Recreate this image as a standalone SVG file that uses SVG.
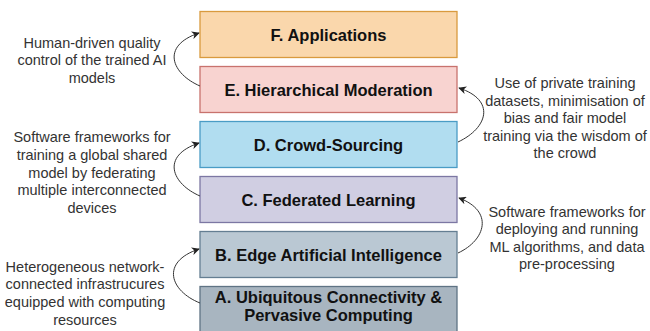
<svg xmlns="http://www.w3.org/2000/svg" width="650" height="331" viewBox="0 0 650 331">
  <defs>
    <marker id="arrow" viewBox="0 0 10 10" refX="9" refY="5" markerWidth="8" markerHeight="8" markerUnits="userSpaceOnUse" orient="auto">
      <path d="M0,0 L10,5 L0,10 L3,5 Z" fill="#222"/>
    </marker>
    <style>
      .box { stroke-width: 1.3; }
      .lbl { font-family: "Liberation Sans", Arial, sans-serif; font-size: 16.5px; font-weight: bold; fill: #111; text-anchor: middle; }
      .note { font-family: "Liberation Sans", Arial, sans-serif; font-size: 14.5px; fill: #333; text-anchor: middle; }
      .link { fill: none; stroke: #333; stroke-width: 1; marker-end: url(#arrow); }
    </style>
  </defs>
  <rect width="650" height="331" fill="#fff"/>

  <g id="node-f">
    <rect class="box" x="200" y="11.5" width="257" height="46" fill="#FAD7AC" stroke="#D99A3E"/>
    <text class="lbl" x="328.5" y="40.5">F. Applications</text>
  </g>
  <g id="node-e">
    <rect class="box" x="200" y="66.5" width="257" height="46" fill="#F8D3D0" stroke="#C8726D"/>
    <text class="lbl" x="328.5" y="95.5">E. Hierarchical Moderation</text>
  </g>
  <g id="node-d">
    <rect class="box" x="200" y="121.5" width="257" height="46" fill="#B1DDF0" stroke="#4A9CC5"/>
    <text class="lbl" x="328.5" y="150.5">D. Crowd-Sourcing</text>
  </g>
  <g id="node-c">
    <rect class="box" x="200" y="176.5" width="257" height="46" fill="#D0CEE2" stroke="#7C77A3"/>
    <text class="lbl" x="328.5" y="205.5">C. Federated Learning</text>
  </g>
  <g id="node-b">
    <rect class="box" x="200" y="231.5" width="257" height="46" fill="#BAC8D3" stroke="#647E92"/>
    <text class="lbl" x="328.5" y="260.5">B. Edge Artificial Intelligence</text>
  </g>
  <g id="node-a">
    <rect class="box" x="200" y="286.5" width="257" height="50" fill="#A8B5C0" stroke="#5F7384"/>
    <text class="lbl" x="328.5" y="302.5">A. Ubiquitous Connectivity &amp;</text>
    <text class="lbl" x="328.5" y="321">Pervasive Computing</text>
  </g>

  <g id="connectors">
    <path class="link" d="M200,86 C172,74 160,46 199,33"/>
    <path class="link" d="M200,196 C172,184 160,156 199,143"/>
    <path class="link" d="M200,303 C170,291 160,262 199,249"/>
    <path class="link" d="M458,142 C488,128 496,100 459,88"/>
    <path class="link" d="M458,253 C486,240 494,211 459,198"/>
  </g>

  <g id="notes">
    <text class="note" x="92" y="47.5">Human-driven quality</text>
    <text class="note" x="92" y="65">control of the trained AI</text>
    <text class="note" x="92" y="82.5">models</text>

    <text class="note" x="92" y="142">Software frameworks for</text>
    <text class="note" x="92" y="160">training a global shared</text>
    <text class="note" x="92" y="177.5">model by federating</text>
    <text class="note" x="92" y="195">multiple interconnected</text>
    <text class="note" x="92" y="213">devices</text>

    <text class="note" x="85" y="272">Heterogeneous network-</text>
    <text class="note" x="85" y="289">connected infrastrucures</text>
    <text class="note" x="85" y="307">equipped with computing</text>
    <text class="note" x="85" y="325">resources</text>

    <text class="note" x="565" y="88">Use of private training</text>
    <text class="note" x="565" y="106">datasets, minimisation of</text>
    <text class="note" x="565" y="123">bias and fair model</text>
    <text class="note" x="565" y="140.5">training via the wisdom of</text>
    <text class="note" x="565" y="158">the crowd</text>

    <text class="note" x="567" y="216.5">Software frameworks for</text>
    <text class="note" x="567" y="234">deploying and running</text>
    <text class="note" x="567" y="251.5">ML algorithms, and data</text>
    <text class="note" x="567" y="269">pre-processing</text>
  </g>
</svg>
